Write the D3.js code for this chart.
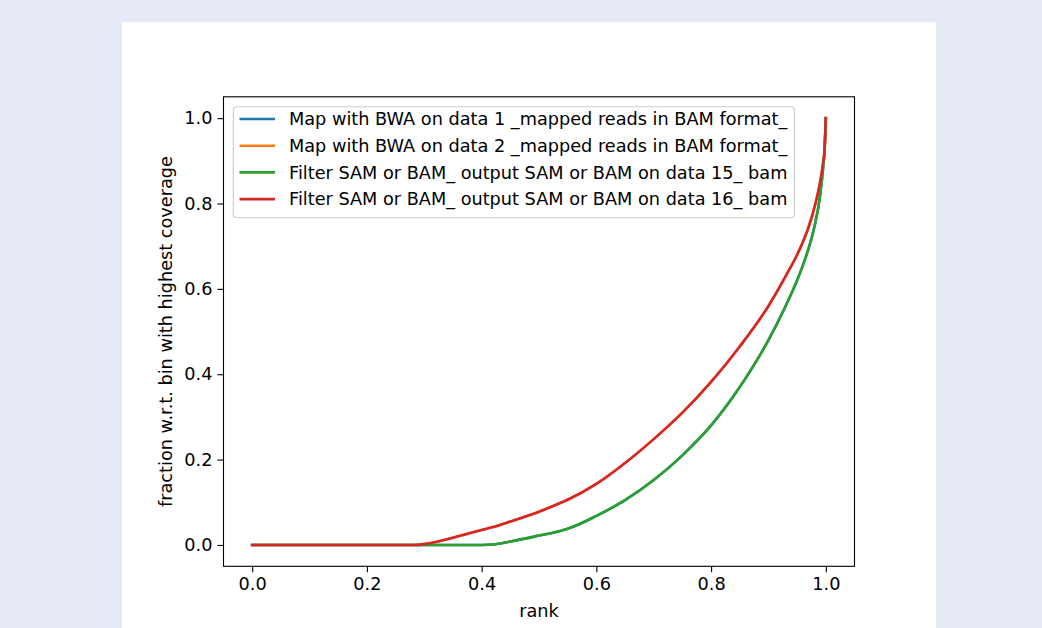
<!DOCTYPE html>
<html>
<head>
<meta charset="utf-8">
<script src="https://cdn.jsdelivr.net/npm/d3@7"></script>
<style>
  html, body { margin: 0; padding: 0; background: #e5e9f5; }
  svg { display: block; }
  text { font-family: "DejaVu Sans", sans-serif; fill: #000; }
</style>
</head>
<body>
<svg id="chart" width="1042" height="628"></svg>
<script>
// Coverage fingerprint: ranks along the x axis
const rank = [0, 0.1, 0.2, 0.28, 0.30, 0.35, 0.40, 0.42, 0.45, 0.50, 0.54, 0.55, 0.60, 0.65, 0.70, 0.75, 0.80, 0.85, 0.90, 0.93, 0.95, 0.96, 0.97, 0.98, 0.99, 0.995, 0.998, 1.0];

// Cumulative fraction per sample (same length as rank)
const bwaData1 = [0, 0, 0, 0, 0, 0, 0, 0.001, 0.008, 0.022, 0.034, 0.038, 0.068, 0.105, 0.152, 0.21, 0.28, 0.37, 0.48, 0.56, 0.62, 0.655, 0.695, 0.745, 0.818, 0.88, 0.93, 1.0];
const bwaData2 = [0, 0, 0, 0, 0.002, 0.017, 0.035, 0.042, 0.055, 0.078, 0.100, 0.106, 0.143, 0.192, 0.248, 0.31, 0.382, 0.465, 0.56, 0.63, 0.68, 0.71, 0.745, 0.79, 0.85, 0.893, 0.93, 1.0];
const filtered15 = [0, 0, 0, 0, 0, 0, 0, 0.001, 0.008, 0.022, 0.034, 0.038, 0.068, 0.105, 0.152, 0.21, 0.28, 0.37, 0.48, 0.56, 0.62, 0.655, 0.695, 0.745, 0.818, 0.88, 0.93, 1.0];
const filtered16 = [0, 0, 0, 0, 0.002, 0.017, 0.035, 0.042, 0.055, 0.078, 0.100, 0.106, 0.143, 0.192, 0.248, 0.31, 0.382, 0.465, 0.56, 0.63, 0.68, 0.71, 0.745, 0.79, 0.85, 0.893, 0.93, 1.0];

const seriesNames = [
  "Map with BWA on data 1 _mapped reads in BAM format_",
  "Map with BWA on data 2 _mapped reads in BAM format_",
  "Filter SAM or BAM_ output SAM or BAM on data 15_ bam",
  "Filter SAM or BAM_ output SAM or BAM on data 16_ bam"
];
const seriesValues = [bwaData1, bwaData2, filtered15, filtered16];
const seriesColors = ["#1f77b4", "#ff7f0e", "#2ca02c", "#d62728"];

const xTicks = [0, 0.2, 0.4, 0.6, 0.8, 1.0];
const yTicks = [0, 0.2, 0.4, 0.6, 0.8, 1.0];

const svg = d3.select("#chart");
const FS = 17.7;

// figure panel
svg.append("rect")
  .attr("x", 122).attr("y", 22).attr("width", 814).attr("height", 620)
  .attr("fill", "#ffffff");

const plot = { left: 223.5, right: 854.5, top: 96.8, bottom: 566.3 };

const x = d3.scaleLinear().domain([-0.05, 1.05]).range([plot.left, plot.right]);
const y = d3.scaleLinear().domain([-0.05, 1.05]).range([plot.bottom, plot.top]);

const line = d3.line()
  .curve(d3.curveMonotoneX)
  .x((d, i) => x(rank[i]))
  .y(d => y(d));

const g = svg.append("g");

seriesValues.forEach((vals, k) => {
  g.append("path")
    .attr("d", line(vals))
    .attr("fill", "none")
    .attr("stroke", seriesColors[k])
    .attr("stroke-width", 2.6)
    .attr("stroke-linejoin", "round")
    .attr("stroke-linecap", "square");
});

// axes
const xAxis = d3.axisBottom(x).tickValues(xTicks).tickFormat(d3.format(".1f"))
  .tickSize(6).tickPadding(5);
const yAxis = d3.axisLeft(y).tickValues(yTicks).tickFormat(d3.format(".1f"))
  .tickSize(6).tickPadding(5);

const gx = svg.append("g").attr("transform", `translate(0,${plot.bottom})`).call(xAxis);
const gy = svg.append("g").attr("transform", `translate(${plot.left},0)`).call(yAxis);
[gx, gy].forEach(a => {
  a.select(".domain").remove();
  a.selectAll(".tick line").attr("stroke", "#000").attr("stroke-width", 1.1);
  a.selectAll(".tick text").style("font-size", FS + "px").style("font-family", "DejaVu Sans");
});

// frame
svg.append("rect")
  .attr("x", plot.left).attr("y", plot.top)
  .attr("width", plot.right - plot.left).attr("height", plot.bottom - plot.top)
  .attr("fill", "none").attr("stroke", "#000").attr("stroke-width", 1.1);

// axis labels
svg.append("text")
  .attr("x", (plot.left + plot.right) / 2).attr("y", 617)
  .attr("text-anchor", "middle")
  .style("font-size", FS + "px")
  .text("rank");

svg.append("text")
  .attr("transform", `translate(172,${(plot.top + plot.bottom) / 2}) rotate(-90)`)
  .attr("text-anchor", "middle")
  .style("font-size", FS + "px")
  .text("fraction w.r.t. bin with highest coverage");

// legend
const legX = 233.3, legY = 106.7, rowH = 26.7, firstRow = 119;
const legend = svg.append("g");
const box = legend.append("rect")
  .attr("x", legX).attr("y", legY)
  .attr("rx", 3.5).attr("ry", 3.5)
  .attr("fill", "#ffffff").attr("fill-opacity", 0.8)
  .attr("stroke", "#cccccc").attr("stroke-width", 1.1);

let maxW = 0;
seriesNames.forEach((name, k) => {
  const cy = firstRow + k * rowH;
  legend.append("line")
    .attr("x1", 239.5).attr("x2", 275)
    .attr("y1", cy).attr("y2", cy)
    .attr("stroke", seriesColors[k]).attr("stroke-width", 2.6);
  const t = legend.append("text")
    .attr("x", 289).attr("y", cy).attr("dy", "0.36em")
    .style("font-size", FS + "px")
    .text(name);
  maxW = Math.max(maxW, t.node().getComputedTextLength());
});
box.attr("width", 289 + maxW + 7 - legX)
   .attr("height", 217.7 - legY);
</script>
</body>
</html>
